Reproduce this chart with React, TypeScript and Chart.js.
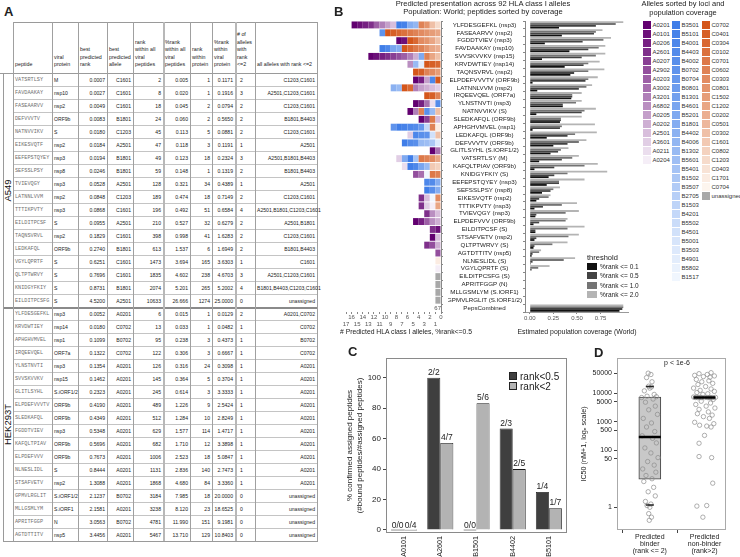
import React, { useEffect, useRef } from 'react';
import { Chart, registerables } from 'chart.js';

Chart.register(...registerables);

const FONT = "'Liberation Sans', Arial, Helvetica, sans-serif";
const MONO = "'Liberation Mono', 'DejaVu Sans Mono', monospace";
Chart.defaults.font.family = FONT;
Chart.defaults.color = '#333';

/* ================= Panel A : table ================= */
const tableHeaders = [
  'peptide', 'viral\nprotein', 'best\npredicted\nrank', 'best\npredicted\nallele',
  'rank\nwithin all\nviral\npeptides', '%rank\nwithin all\nviral\npeptides',
  'rank\nwithin\nprotein', '%rank\nwithin\nviral\nprotein', '# of\nalleles\nwith\nrank\n<=2',
  'all alleles with rank <=2',
];
const tableGroups = ['A549', 'HEK293T'];
const tableGroupSizes = [18, 18];
const tablePeptides = [
  'VATSRTLSY', 'FAVDAAKAY', 'FASEAARVV', 'DEFVVVTV', 'NATNVVIKV', 'EIKESVQTF', 'EEFEPSTQYEY', 'SEFSSLPSY',
  'TVIEVQGY', 'LATNNLVVM', 'TTTIKPVTY', 'EILDITPCSF', 'TAQNSVRVL', 'LEDKAFQL', 'VGYLQPRTF', 'QLTPTWRVY',
  'KNIDGYFKIY', 'EILDITPCSFG',
  'YLFDESGEFKL', 'KRVDWTIEY', 'APHGHVMVEL', 'IRQEEVQEL', 'YLNSTNVTI', 'SVVSKVVKV', 'GLITLSYHL', 'ELPDEFVVVTV',
  'SLEDKAFQL', 'FGDDTVIEV', 'KAFQLTPIAV', 'ELPDEFVVV', 'NLNESLIDL', 'STSAFVETV', 'GPMVLRGLIT', 'MLLGSMLYM',
  'APRITFGGP', 'AGTDTTITV',
];
const tableProteins = [
  'M', 'nsp10', 'nsp2', 'ORF9b', 'S', 'nsp2', 'nsp3', 'nsp8', 'nsp3', 'nsp2', 'nsp3', 'S', 'nsp2', 'ORF9b', 'S', 'S', 'S', 'S',
  'nsp3', 'nsp14', 'nsp1', 'ORF7a', 'nsp3', 'nsp15', 'S.iORF1/2', 'ORF9b', 'ORF9b', 'nsp3', 'ORF9b', 'ORF9b', 'S', 'nsp2',
  'S.iORF1/2', 'S.iORF1', 'N', 'nsp5',
];
const tableBestRank = [
  0.0007, 0.0027, 0.0049, 0.0083, 0.0180, 0.0184, 0.0194, 0.0246, 0.0528, 0.0848, 0.0868, 0.0955, 0.1829, 0.2740, 0.6251, 0.7696, 0.8731, 4.5200,
  0.0052, 0.0180, 0.1099, 0.1322, 0.1354, 0.1462, 0.2323, 0.4190, 0.4349, 0.5348, 0.5696, 0.7673, 0.8444, 1.3088, 2.1237, 2.1581, 3.0563, 3.4456,
];
const tableBestAllele = [
  'C1601', 'C1601', 'C1601', 'B1801', 'C1203', 'A2501', 'B1801', 'B1801', 'A2501', 'C1203', 'C1601', 'A2501', 'C1601', 'B1801', 'C1601', 'C1601', 'B1801', 'A2501',
  'A0201', 'C0702', 'B0702', 'C0702', 'A0201', 'A0201', 'A0201', 'A0201', 'A0201', 'A0201', 'A0201', 'A0201', 'A0201', 'A0201', 'B0702', 'A0201', 'B0702', 'A0201',
];
const tableRankAll = [
  2, 8, 18, 24, 45, 47, 49, 59, 128, 189, 196, 210, 398, 613, 1473, 1835, 2074, 10633,
  6, 13, 95, 122, 126, 145, 245, 489, 512, 629, 682, 1006, 1131, 1868, 3184, 3238, 4781, 5467,
];
const tablePctRankAll = [
  0.005, 0.020, 0.045, 0.060, 0.113, 0.118, 0.123, 0.148, 0.321, 0.474, 0.492, 0.527, 0.998, 1.537, 3.694, 4.602, 5.201, 26.666,
  0.015, 0.033, 0.238, 0.306, 0.316, 0.364, 0.614, 1.226, 1.284, 1.577, 1.710, 2.523, 2.836, 4.680, 7.985, 8.120, 11.990, 13.710,
];
const tableRankProtein = [
  1, 1, 2, 2, 5, 3, 18, 1, 34, 18, 51, 32, 41, 6, 165, 238, 265, 1274,
  1, 1, 3, 3, 24, 5, 3, 9, 10, 114, 12, 18, 140, 84, 18, 23, 151, 129,
];
const tablePctRankProtein = [
  0.1171, 0.1916, 0.0794, 0.5650, 0.0881, 0.1191, 0.2324, 0.1319, 0.4389, 0.7149, 0.6584, 0.6279, 1.6283, 1.6949, 3.6303, 4.6703, 5.2002, 25.0,
  0.0129, 0.0482, 0.4373, 0.6667, 0.3098, 0.3704, 3.3333, 2.5424, 2.8249, 1.4717, 3.3898, 5.0847, 2.7473, 3.3360, 20.0, 18.6525, 9.1981, 10.8403,
];
const tableNumAlleles = [
  2, 3, 2, 2, 2, 1, 3, 2, 1, 2, 4, 2, 2, 2, 1, 3, 4, 0,
  2, 1, 1, 1, 1, 1, 1, 1, 1, 1, 1, 1, 1, 1, 0, 0, 0, 0,
];
const tableAllAlleles = [
  'C1203,C1601', 'A2501,C1203,C1601', 'C1203,C1601', 'B1801,B4403', 'C1203,C1601', 'A2501', 'A2501,B1801,B4403', 'B1801,B4403',
  'A2501', 'C1203,C1601', 'A2501,B1801,C1203,C1601', 'A2501,B1801', 'C1203,C1601', 'B1801,B4403', 'C1601', 'A2501,C1203,C1601',
  'B1801,B4403,C1203,C1601', 'unassigned',
  'A0201,C0702', 'C0702', 'B0702', 'C0702', 'A0201', 'A0201', 'A0201', 'A0201', 'A0201', 'A0201', 'A0201', 'A0201', 'A0201', 'A0201',
  'unassigned', 'unassigned', 'unassigned', 'unassigned',
];

/* ================= Panel B ================= */
const bTitle = ['Predicted presentation across 92 HLA class I alleles', 'Population: World; peptides sorted by coverage'];
const bPeptides = [
  'YLFDESGEFKL (nsp3)', 'FASEAARVV (nsp2)', 'FGDDTVIEV (nsp3)', 'FAVDAAKAY (nsp10)', 'SVVSKVVKV (nsp15)',
  'KRVDWTIEY (nsp14)', 'TAQNSVRVL (nsp2)', 'ELPDEFVVVTV (ORF9b)', 'LATNNLVVM (nsp2)', 'IRQEEVQEL (ORF7a)',
  'YLNSTNVTI (nsp3)', 'NATNVVIKV (S)', 'SLEDKAFQL (ORF9b)', 'APHGHVMVEL (nsp1)', 'LEDKAFQL (ORF9b)',
  'DEFVVVTV (ORF9b)', 'GLITLSYHL (S.IORF1/2)', 'VATSRTLSY (M)', 'KAFQLTPIAV (ORF9b)', 'KNIDGYFKIY (S)',
  'EEFEPSTQYEY (nsp3)', 'SEFSSLPSY (nsp8)', 'EIKESVQTF (nsp2)', 'TTTIKPVTY (nsp3)', 'TVIEVQGY (nsp3)',
  'ELPDEFVVV (ORF9b)', 'EILDITPCSF (S)', 'STSAFVETV (nsp2)', 'QLTPTWRVY (S)', 'AGTDTTITV (nsp5)',
  'NLNESLIDL (S)', 'VGYLQPRTF (S)', 'EILDITPCSFG (S)', 'APRITFGGP (N)', 'MLLGSMLYM (S.IORF1)',
  'GPMVLRGLIT (S.IORF1/2)', 'PepsCombined',
];
// alleles with %rank <= 0.5 for every peptide (left to right as drawn)
const bCells = [
  ['A0201', 'A0101', 'A0206', 'A2601', 'A0203', 'A3201', 'A0205', 'A2501', 'B3501', 'B5101', 'B1801', 'B4006', 'C0602', 'C0801', 'C0302', 'C1203'],
  ['B0702', 'C0702', 'C0401', 'C0304', 'C0102', 'C0701', 'C0602', 'C0303', 'C0801', 'C1502', 'C1202'],
  ['A0201', 'A0101', 'C0702', 'C0304', 'C0303', 'C0801', 'C1202', 'C0302'],
  ['B3501', 'B4001', 'B4601', 'B1801', 'C0702', 'C0304', 'C0701', 'C0602', 'C0801', 'C1202', 'C0202'],
  ['A0201', 'A0101', 'A0206', 'A2601', 'A0207', 'A2902', 'A0203', 'A3201', 'A0202', 'B5201', 'C0602', 'C1202', 'C0302'],
  ['A6802', 'B1302', 'B4901', 'C0702', 'C0401', 'C0304'],
  ['C0702', 'C0401', 'C0602', 'C0303', 'C1502'],
  ['A0201', 'A0206', 'A0205', 'B4001', 'C0702'],
  ['B4402', 'B1302', 'C0702', 'C0304', 'A3201', 'A0205', 'A0202', 'A2501', 'A3601'],
  ['C0702', 'C0401', 'C0602'],
  ['A0201', 'A0206', 'A3002', 'A0211', 'B4403'],
  ['A0201', 'A3201', 'C0602', 'B4002', 'B1302', 'C0302'],
  ['A0201', 'A0207', 'C0701', 'A2501'],
  ['B0702', 'B3501', 'B5101', 'B4001', 'B4403', 'B0704', 'B4201', 'C0602', 'C1701'],
  ['A3601', 'B4001', 'B4002', 'B0702', 'B4501', 'C0302'],
  ['B3501', 'B4403', 'B4002', 'B1302', 'B5601', 'B1502', 'B3503'],
  ['A0201', 'A3002'],
  ['A3601', 'B5201', 'B3501', 'B5401', 'C0701', 'C0602', 'C0303', 'C1202'],
  ['A0211', 'B3501', 'B4001', 'B4601', 'B1302', 'C1601', 'C0802'],
  ['A2902', 'A3002', 'B1517', 'C0701', 'C0602'],
  ['B4001', 'B4403', 'B1801'],
  ['B3501', 'B4002', 'B1801'],
  ['A2601', 'A2501', 'B1517', 'C0303'],
  ['A2601', 'A3601', 'A0204', 'C1202'],
  ['A2601', 'A6802', 'A2501'],
  ['A0201', 'A0206', 'A0203', 'A6802', 'A0202'],
  ['A2601', 'A0101'],
  ['A0201', 'A2501'],
  ['A2601', 'A2902', 'A0202'],
  ['A2902'],
  ['C1701'],
  ['A0204'],
  ['unassigned'], ['unassigned'], ['unassigned'], ['unassigned'],
  [],
];
const bCountLabels = ['', '', '', '', '', '', '', '', '', '', '', '', '', '', '', '', '', '', '', '', '', '', '', '', '', '', '', '', '', '', '', '', '', '', '', '', '67'];
const heatTicks = [0, 1, 2, 3, 4, 5, 6, 7, 8, 9, 10, 11, 12, 13, 14, 15, 16, 17];
const heatTitle = '# Predicted HLA class I alleles, %rank<=0.5';

const cov20 = [0.99, 0.77, 0.86, 0.80, 0.80, 0.74, 0.79, 0.72, 0.66, 0.55, 0.55, 0.70, 0.55, 0.69, 0.71, 0.60, 0.41, 0.52, 0.72, 0.82, 0.58, 0.32, 0.22, 0.50, 0.52, 0.40, 0.58, 0.52, 0.40, 0.12, 0.48, 0.21, 0, 0, 0, 0, 0.99];
const cov10 = [0.91, 0.70, 0.78, 0.73, 0.70, 0.62, 0.62, 0.62, 0.60, 0.45, 0.49, 0.58, 0.33, 0.34, 0.48, 0.52, 0.33, 0.45, 0.58, 0.40, 0.31, 0.25, 0.20, 0.34, 0.38, 0.38, 0.40, 0.41, 0.24, 0.10, 0.36, 0.09, 0, 0, 0, 0, 0.99];
const cov05 = [0.70, 0.68, 0.56, 0.62, 0.55, 0.57, 0.47, 0.59, 0.52, 0.45, 0.35, 0.55, 0.33, 0.32, 0.40, 0.40, 0.30, 0.34, 0.26, 0.26, 0.31, 0.22, 0.10, 0.14, 0.07, 0.10, 0.06, 0.07, 0.05, 0.03, 0.03, 0.02, 0, 0, 0, 0, 0.98];
const cov01 = [0.31, 0.34, 0.16, 0.42, 0.13, 0.37, 0.43, 0.03, 0.08, 0.44, 0.35, 0.07, 0.32, 0.03, 0.18, 0.25, 0.22, 0.10, 0.05, 0.20, 0.18, 0.13, 0.07, 0.05, 0.06, 0.04, 0.06, 0.05, 0.04, 0.02, 0.01, 0.0, 0, 0, 0, 0, 0.95];
const covTicks = [0, 0.25, 0.5, 0.75];
const covTitle = 'Estimated population coverage (World)';
const thresholdLabels = ['%rank <= 0.1', '%rank <= 0.5', '%rank <= 1.0', '%rank <= 2.0'];

const legendTitle = ['Alleles sorted by loci and', 'population coverage'];
const allelesA = ['A0201', 'A0101', 'A0206', 'A2601', 'A0207', 'A2902', 'A0203', 'A3002', 'A3201', 'A6802', 'A0205', 'A0202', 'A2501', 'A3601', 'A0211', 'A0204'];
const allelesB = ['B3501', 'B5101', 'B4001', 'B4403', 'B4002', 'B0702', 'B0704', 'B0801', 'B1301', 'B4601', 'B5201', 'B1801', 'B4402', 'B4006', 'B1302', 'B5601', 'B5401', 'B1502', 'B3507', 'B2705', 'B1503', 'B4201', 'B5502', 'B4501', 'B5001', 'B3503', 'B4901', 'B5802', 'B1517'];
const allelesC = ['C0702', 'C0401', 'C0304', 'C0102', 'C0701', 'C0602', 'C0303', 'C0801', 'C1502', 'C1202', 'C0202', 'C0501', 'C0302', 'C1601', 'C0802', 'C1203', 'C0403', 'C1701', 'C0704'];

/* ================= Panel C ================= */
const cAlleles = ['A0101', 'A2601', 'B1501', 'B4402', 'B5101'];
const cPctStrong = [0, 100, 0, 66.7, 25];
const cPctWeak = [0, 57.1, 83.3, 40, 14.3];
const cFracStrong = ['0/0', '2/2', '0/0', '2/3', '1/4'];
const cFracWeak = ['0/4', '4/7', '5/6', '2/5', '1/7'];
const cSeries = ['rank<0.5', 'rank<2'];
const cTicks = [0, 20, 40, 60, 80, 100];
const cYTitle = ['% confirmed assigned peptides', '(#bound peptides/#assigned peptides)'];

/* ================= Panel D ================= */
const dGroups = [['Predicted', 'binder', '(rank <= 2)'], ['Predicted', 'non-binder', '(rank>2)']];
const dBoxQ1 = [9.6, 7000];
const dBoxMedian = [290, 7000];
const dBoxQ3 = [7200, 7000];
const dWhiskerCaps = [17000, 1.2];
const dBinderIC50 = [50000, 45000, 35000, 25000, 17500, 16500, 15000, 12000, 9000, 7800, 7500, 7000, 6200, 4800, 3500, 2600, 1800, 1300, 900, 650, 450, 320, 260, 180, 120, 80, 55, 40, 30, 22, 17, 13, 10, 8, 5, 3.5, 2.5, 1.6, 1.3, 1.15, 1.0, 0.6, 0.45, 0.35];
const dBinderJitter = [-0.03, 0.02, -0.06, 0.04, -0.02, 0.03, 0.00, -0.10, 0.08, -0.05, 0.12, -0.15, 0.06, -0.08, 0.10, -0.02, 0.14, -0.12, 0.03, -0.06, 0.09, -0.14, 0.05, 0.12, -0.09, 0.02, 0.15, -0.04, 0.08, -0.13, 0.11, -0.07, 0.04, -0.11, 0.07, -0.03, 0.1, -0.08, 0.02, -0.05, 0.0, -0.02, 0.03, -0.01];
const dNonBinderIC50 = [52000, 48000, 45000, 42000, 40000, 38000, 36000, 30000, 27000, 25000, 22000, 20000, 17000, 15000, 14000, 12500, 11500, 10500, 9500, 9000, 7300, 7200, 7100, 7000, 7000, 7000, 6900, 7000, 7100, 7000, 6950, 7050, 7000, 6900, 6000, 5200, 4500, 4000, 3500, 3000, 2700, 2200, 1900, 1700, 1500, 1300, 950, 850, 750, 700, 650, 330, 175, 60, 55, 7, 1.1, 1.15, 0.45];
const dNonBinderJitter = [0.12, -0.10, 0.05, -0.18, 0.18, -0.02, 0.10, -0.15, 0.08, -0.05, 0.15, -0.12, 0.02, -0.20, 0.12, -0.08, 0.18, -0.14, 0.06, -0.03, -0.20, -0.15, -0.10, -0.05, 0.00, 0.05, 0.10, 0.15, 0.20, -0.17, 0.08, -0.07, 0.12, -0.12, 0.16, -0.06, 0.11, -0.16, 0.03, 0.19, -0.10, 0.07, -0.13, 0.14, -0.02, 0.09, -0.18, 0.17, -0.09, 0.04, 0.12, 0.00, -0.10, -0.10, 0.13, 0.15, -0.14, 0.04, -0.03];
const dTicks = [1, 50, 100, 500, 1000, 5000, 10000, 50000];
const dYTitle = 'IC50 (nM+1, logₑ scale)';
const dPText = 'p < 1e-6';

/* ================= helpers ================= */
function mix(a: number[], b: number[], t: number) {
  const c = a.map((v, i) => Math.round(v + (b[i] - v) * t));
  return `rgb(${c[0]},${c[1]},${c[2]})`;
}
const alleleColor: Record<string, string> = { unassigned: '#a8a8a8' };
allelesA.forEach((a, i) => { alleleColor[a] = mix([98, 0, 112], [245, 238, 247], i / (allelesA.length - 1)); });
allelesB.forEach((a, i) => { alleleColor[a] = mix([64, 126, 232], [240, 246, 254], i / (allelesB.length - 1)); });
allelesC.forEach((a, i) => { alleleColor[a] = mix([212, 86, 26], [253, 245, 238], i / (allelesC.length - 1)); });
const thresholdColors = ['#111111', '#434343', '#747474', '#b4b4b4'];

function ChartBox({ left, top, width, height, make }: any) {
  const ref = useRef<HTMLCanvasElement | null>(null);
  useEffect(() => {
    const chart = new Chart(ref.current as HTMLCanvasElement, make());
    return () => chart.destroy();
  }, []);
  return <canvas ref={ref} width={width} height={height} style={{ position: 'absolute', left, top, width, height }} />;
}

const framePlugin = (color: string) => ({
  id: 'frame',
  afterDraw(chart: any) {
    const { ctx, chartArea: a } = chart;
    ctx.save();
    ctx.strokeStyle = color;
    ctx.lineWidth = 1;
    ctx.strokeRect(Math.round(a.left) + 0.5, Math.round(a.top) + 0.5, Math.round(a.right - a.left) - 1, Math.round(a.bottom - a.top) - 1);
    ctx.restore();
  },
});

/* ---------- chart configs ---------- */
function makeHeatmap(): any {
  const maxLen = Math.max(...bCells.map((r) => r.length));
  const datasets = Array.from({ length: maxLen }, (_, k) => ({
    data: bCells.map((r) => (r.length > k ? 1 : 0)),
    backgroundColor: bCells.map((r) => (r.length > k ? alleleColor[r[r.length - 1 - k]] : 'rgba(0,0,0,0)')),
    borderWidth: 0,
    categoryPercentage: 0.88,
    barPercentage: 1,
    stack: 'cells',
  }));
  return {
    type: 'bar',
    data: { labels: bPeptides, datasets },
    options: {
      indexAxis: 'y',
      animation: false,
      responsive: false,
      layout: { padding: { left: 10, top: 21, right: 0, bottom: 15 } },
      plugins: { legend: { display: false }, tooltip: { enabled: false } },
      scales: {
        x: {
          stacked: true, reverse: true, min: 0, max: 17,
          grid: { drawOnChartArea: false, tickLength: 2, color: '#888' },
          border: { display: false },
          afterBuildTicks: (ax: any) => { ax.ticks = heatTicks.map((v) => ({ value: v })); },
          ticks: {
            autoSkip: false, maxRotation: 0, padding: 0, color: '#555',
            font: { size: 6, lineHeight: 1.15 },
            callback: (v: any) => (Number(v) % 2 === 0 ? [String(v), ''] : ['', String(v)]),
          },
          afterFit: (s: any) => { s.height = 18; },
        },
        y: {
          stacked: true, position: 'right',
          grid: { drawOnChartArea: false, tickLength: 2, color: '#888' },
          border: { display: true, color: '#888' },
          ticks: { display: false },
          afterFit: (s: any) => { s.width = 7; },
        },
      },
    },
    plugins: [{
      id: 'countLabels',
      afterDatasetsDraw(chart: any) {
        const { ctx, scales: { x, y } } = chart;
        ctx.save();
        ctx.font = `6px ${FONT}`;
        ctx.fillStyle = '#555';
        ctx.textAlign = 'right';
        ctx.textBaseline = 'middle';
        bCountLabels.forEach((t, i) => { if (t) ctx.fillText(t, x.getPixelForValue(0), y.getPixelForValue(i)); });
        ctx.restore();
      },
    }],
  };
}

function makeCoverage(): any {
  const series = [cov20, cov10, cov05, cov01];
  const colors = [thresholdColors[3], thresholdColors[2], thresholdColors[1], thresholdColors[0]];
  return {
    type: 'bar',
    data: {
      labels: bPeptides,
      datasets: series.map((d, i) => ({ data: d, backgroundColor: colors[i], borderWidth: 0, categoryPercentage: 0.92, barPercentage: 1 })),
    },
    options: {
      indexAxis: 'y',
      animation: false,
      responsive: false,
      layout: { padding: { left: 0, top: 21, right: 8, bottom: 15 } },
      plugins: { legend: { display: false }, tooltip: { enabled: false } },
      scales: {
        x: {
          min: -0.05, max: 1.04,
          grid: { drawOnChartArea: false, tickLength: 2, color: '#888' },
          border: { display: true, color: '#999' },
          afterBuildTicks: (ax: any) => { ax.ticks = covTicks.map((v) => ({ value: v })); },
          ticks: { padding: 1, color: '#555', font: { size: 6 }, maxRotation: 0, callback: (v: any) => Number(v).toFixed(2) },
          afterFit: (s: any) => { s.height = 18; },
        },
        y: {
          grid: { drawOnChartArea: false, tickLength: 2, color: '#888' },
          border: { display: true, color: '#888' },
          ticks: { autoSkip: false, crossAlign: 'center', padding: 1, color: '#222', font: { size: 6.2 } },
          afterFit: (s: any) => { s.width = 77; },
        },
      },
    },
  };
}

function makeC(): any {
  return {
    type: 'bar',
    data: {
      labels: cAlleles,
      datasets: [
        { label: cSeries[0], data: cPctStrong, backgroundColor: '#3f3f3f', borderColor: '#1a1a1a', borderWidth: 0.8, minBarLength: 1 },
        { label: cSeries[1], data: cPctWeak, backgroundColor: '#b3b3b3', borderColor: '#1a1a1a', borderWidth: 0.8, minBarLength: 1 },
      ],
    },
    options: {
      animation: false,
      responsive: false,
      layout: { padding: { left: 0, top: 18, right: 5, bottom: 0 } },
      datasets: { bar: { categoryPercentage: 0.72, barPercentage: 1 } },
      plugins: { legend: { display: false }, tooltip: { enabled: false } },
      scales: {
        x: {
          grid: { display: false, drawTicks: false, tickLength: 0 }, border: { display: false },
          ticks: { minRotation: 90, maxRotation: 90, padding: 3, color: '#222', font: { size: 7.2 } },
          afterFit: (s: any) => { s.height = 24; },
        },
        y: {
          min: -2, max: 113,
          grid: { drawOnChartArea: false, tickLength: 3, color: '#444' },
          border: { display: false },
          afterBuildTicks: (ax: any) => { ax.ticks = cTicks.map((v) => ({ value: v })); },
          ticks: { padding: 2, color: '#222', font: { size: 8 } },
          title: { display: true, text: cYTitle, color: '#222', font: { size: 8, lineHeight: 1.2 }, padding: { top: 5, bottom: 0 } },
          afterFit: (s: any) => { s.width = 46; },
        },
      },
    },
    plugins: [framePlugin('#8a8a8a'), {
      id: 'fracLabels',
      afterDatasetsDraw(chart: any) {
        const { ctx } = chart;
        ctx.save();
        ctx.font = `8.5px ${FONT}`;
        ctx.fillStyle = '#222';
        ctx.textAlign = 'center';
        ctx.textBaseline = 'bottom';
        [cFracStrong, cFracWeak].forEach((labels, di) => {
          chart.getDatasetMeta(di).data.forEach((el: any, i: number) => ctx.fillText(labels[i], el.x, el.y - 1));
        });
        ctx.restore();
      },
    }],
  };
}

function makeD(): any {
  const binderPts = dBinderIC50.map((v, i) => ({ x: 1 + dBinderJitter[i], y: v }));
  const nonPts = dNonBinderIC50.map((v, i) => ({ x: 2 + dNonBinderJitter[i], y: v }));
  const pointStyle = { pointStyle: 'circle', pointRadius: 2.2, borderColor: '#8c8c8c', backgroundColor: 'rgba(0,0,0,0)', borderWidth: 0.7 };
  return {
    type: 'bar',
    data: {
      datasets: [
        { type: 'scatter', order: 0, data: dBoxMedian.map((m, i) => ({ x: i + 1, y: m })), pointStyle: 'line', pointRadius: 11, borderColor: '#000', borderWidth: 2.6 },
        { type: 'scatter', order: 1, data: dWhiskerCaps.map((w) => ({ x: 1, y: w })), pointStyle: 'line', pointRadius: 4, borderColor: '#222', borderWidth: 1.6 },
        { type: 'scatter', order: 2, data: binderPts, ...pointStyle },
        { type: 'scatter', order: 3, data: nonPts, ...pointStyle },
        { type: 'bar', order: 4, data: dBoxQ1.map((q, i) => ({ x: i + 1, y: [q, dBoxQ3[i]] })), backgroundColor: '#c8c8c8', borderColor: '#444', borderWidth: 1, borderSkipped: false, barThickness: 22 },
      ],
    },
    options: {
      animation: false,
      responsive: false,
      layout: { padding: { left: 0, top: 18, right: 10, bottom: 0 } },
      plugins: { legend: { display: false }, tooltip: { enabled: false } },
      scales: {
        x: {
          type: 'linear', min: 0.4, max: 2.4, offset: false,
          grid: { drawOnChartArea: false, tickLength: 3, color: '#444' },
          border: { display: false },
          afterBuildTicks: (ax: any) => { ax.ticks = [{ value: 1 }, { value: 2 }]; },
          ticks: { padding: 1, color: '#222', font: { size: 7, lineHeight: 1.0 }, maxRotation: 0, callback: (v: any) => dGroups[Math.round(Number(v)) - 1] || '' },
          afterFit: (s: any) => { s.height = 27; },
        },
        y: {
          type: 'logarithmic', min: 0.16, max: 170000,
          grid: { drawOnChartArea: false, tickLength: 3, color: '#444' },
          border: { display: false },
          afterBuildTicks: (ax: any) => { ax.ticks = dTicks.map((v) => ({ value: v })); },
          ticks: { padding: 2, color: '#222', font: { size: 7 }, callback: (v: any) => String(v) },
          title: { display: true, text: dYTitle, color: '#222', font: { size: 7.2 }, padding: { top: 2, bottom: 0 } },
          afterFit: (s: any) => { s.width = 39; },
        },
      },
    },
    plugins: [framePlugin('#aaaaaa')],
  };
}

/* ---------- Panel A component ---------- */
function PanelA() {
  const colX = [13, 52, 78, 107, 133, 163, 190, 212, 235, 255, 317];
  const headTop = 22, headBot = 73, rowH = 13;
  const n = tablePeptides.length;
  const bottom = headBot + n * rowH;
  const els: any[] = [];
  let k = 0;
  const line = (x: number, y: number, w: number, h: number, c: string) =>
    els.push(<div key={'l' + k++} style={{ position: 'absolute', left: x, top: y, width: w, height: h, background: c }} />);

  line(colX[0], headTop, colX[10] - colX[0] + 1, 1, '#9a9a9a');
  line(0, headBot, colX[10] + 1, 1, '#9a9a9a');
  const groupEnds: number[] = [];
  let acc = 0;
  tableGroupSizes.forEach((s) => { acc += s; groupEnds.push(acc); });
  for (let r = 1; r < n; r++) {
    const isGroup = groupEnds.includes(r);
    if (isGroup) line(3, headBot + r * rowH - 0.5, colX[10] - 2, 2, '#8a8a8a');
    else line(colX[0], headBot + r * rowH, colX[10] - colX[0], 1, '#c4c4c4');
  }
  line(3, bottom, colX[10] - 2, 1, '#9a9a9a');
  colX.forEach((x, i) => {
    const thick = i === 5 || i === 8;
    line(x, headTop, thick ? 2 : 1, bottom - headTop, thick ? '#b8b8b8' : '#a0a0a0');
  });
  line(3, headBot, 1, bottom - headBot, '#9a9a9a');

  const cols = [
    (i: number) => tablePeptides[i],
    (i: number) => tableProteins[i],
    (i: number) => tableBestRank[i].toFixed(4),
    (i: number) => tableBestAllele[i],
    (i: number) => String(tableRankAll[i]),
    (i: number) => tablePctRankAll[i].toFixed(3),
    (i: number) => String(tableRankProtein[i]),
    (i: number) => tablePctRankProtein[i].toFixed(4),
    (i: number) => String(tableNumAlleles[i]),
    (i: number) => tableAllAlleles[i],
  ];
  const aligns = ['left', 'left', 'right', 'right', 'right', 'right', 'right', 'right', 'left', 'right'];

  tableHeaders.forEach((h, c) => {
    els.push(
      <div key={'h' + c} style={{
        position: 'absolute', left: colX[c] + 2, top: headTop, width: colX[c + 1] - colX[c] - 3, height: headBot - headTop - 4,
        display: 'flex', alignItems: 'flex-end', whiteSpace: 'pre-line', fontSize: 5.3, lineHeight: '7.6px', color: '#222',
      }}>{h}</div>,
    );
  });
  for (let r = 0; r < n; r++) {
    cols.forEach((f, c) => {
      const mono = c === 0;
      els.push(
        <div key={`c${r}_${c}`} style={{
          position: 'absolute', left: colX[c], top: headBot + r * rowH + 1, width: colX[c + 1] - colX[c], height: rowH,
          boxSizing: 'border-box', padding: c === 8 ? '0 0 0 5px' : '0 2px', textAlign: aligns[c] as any,
          lineHeight: rowH + 'px', whiteSpace: 'nowrap', fontSize: mono ? 5.2 : 5.1,
          fontFamily: mono ? MONO : FONT, color: mono ? '#707070' : '#1a1a1a',
        }}>{f(r)}</div>,
      );
    });
  }
  let start = 0;
  tableGroups.forEach((g, gi) => {
    const top = headBot + start * rowH;
    const h = tableGroupSizes[gi] * rowH;
    els.push(
      <div key={'g' + gi} style={{ position: 'absolute', left: 0, top, width: 15, height: h, display: 'flex', alignItems: 'center', justifyContent: 'center' }}>
        <span style={{ transform: 'rotate(-90deg)', whiteSpace: 'nowrap', fontSize: 9.5, color: '#111' }}>{g}</span>
      </div>,
    );
    start += tableGroupSizes[gi];
  });
  return <>{els}</>;
}

function abs(left: number, top: number, extra: any = {}) {
  return { position: 'absolute' as const, left, top, ...extra };
}

export default function App() {
  const legendCols = [allelesA, allelesB, [...allelesC, 'unassigned']];
  const legendX = [643, 672, 702];
  return (
    <div style={{ position: 'absolute', left: 0, top: 0, width: 740, height: 557, background: '#fff', overflow: 'hidden', fontFamily: FONT, color: '#222' }}>
      <PanelA />

      <ChartBox left={336} top={0} width={112} height={345} make={makeHeatmap} />
      <ChartBox left={448} top={0} width={188} height={345} make={makeCoverage} />
      <ChartBox left={340} top={340} width={232} height={217} make={makeC} />
      <ChartBox left={578} top={340} width={162} height={217} make={makeD} />

      {/* panel letters */}
      <div style={abs(4, 4, { fontSize: 13, fontWeight: 'bold' })}>A</div>
      <div style={abs(334, 4, { fontSize: 13, fontWeight: 'bold' })}>B</div>
      <div style={abs(348, 344, { fontSize: 13, fontWeight: 'bold' })}>C</div>
      <div style={abs(594, 345, { fontSize: 13, fontWeight: 'bold' })}>D</div>

      {/* panel B texts */}
      <div style={abs(378, 0, { width: 210, textAlign: 'center', fontSize: 7.6, lineHeight: '8.3px', color: '#222' })}>
        {bTitle.map((t, i) => <div key={i}>{t}</div>)}
      </div>
      <div style={abs(306, 328, { width: 200, textAlign: 'center', fontSize: 6.8, lineHeight: '8px', whiteSpace: 'nowrap' })}>{heatTitle}</div>
      <div style={abs(477, 328, { width: 200, textAlign: 'center', fontSize: 6.9, lineHeight: '8px', whiteSpace: 'nowrap' })}>{covTitle}</div>

      {/* threshold legend */}
      <div style={abs(587, 253, { fontSize: 7.5, lineHeight: '9px' })}>threshold</div>
      {thresholdLabels.map((t, i) => (
        <React.Fragment key={'t' + i}>
          <div style={abs(587, 262.5 + i * 9.5, { width: 10, height: 7, background: thresholdColors[i] })} />
          <div style={abs(600, 261.5 + i * 9.5, { fontSize: 6.5, lineHeight: '9px', whiteSpace: 'nowrap' })}>{t}</div>
        </React.Fragment>
      ))}

      {/* allele legend */}
      <div style={abs(633, 0, { width: 100, textAlign: 'center', fontSize: 7.5, lineHeight: '8.5px' })}>
        {legendTitle.map((t, i) => <div key={i}>{t}</div>)}
      </div>
      {legendCols.map((col, ci) => col.map((a, i) => (
        <React.Fragment key={a + ci}>
          <div style={abs(legendX[ci], 20.5 + i * 9, { width: 8, height: 8.2, background: alleleColor[a] })} />
          <div style={abs(legendX[ci] + 9.5, 20.5 + i * 9, { fontSize: 6, lineHeight: '9px', whiteSpace: 'nowrap', color: '#333' })}>{a}</div>
        </React.Fragment>
      )))}

      {/* panel C legend */}
      {cSeries.map((s, i) => (
        <React.Fragment key={s}>
          <div style={abs(509, 372 + i * 10, { width: 8, height: 8, boxSizing: 'border-box', border: '1px solid #222', background: i === 0 ? '#3f3f3f' : '#b3b3b3' })} />
          <div style={abs(520, 370.5 + i * 10, { fontSize: 10, lineHeight: '11px', whiteSpace: 'nowrap' })}>{s}</div>
        </React.Fragment>
      ))}

      {/* panel D annotation */}
      <div style={abs(637, 358, { width: 80, textAlign: 'center', fontSize: 7, lineHeight: '9px' })}>{dPText}</div>
    </div>
  );
}
